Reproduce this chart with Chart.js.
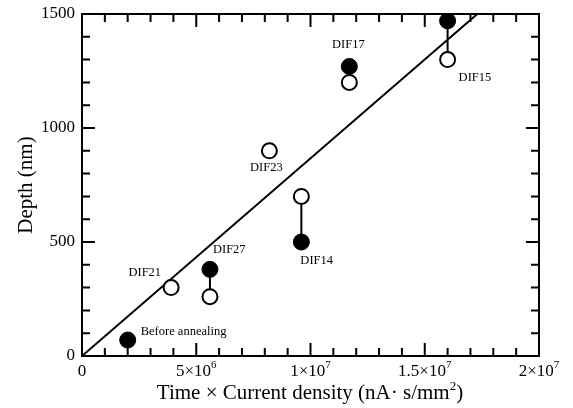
<!DOCTYPE html>
<html>
<head>
<meta charset="utf-8">
<script src="https://cdn.jsdelivr.net/npm/chart.js@4"></script>
<style>
  html, body { margin: 0; padding: 0; background: #fff; }
  #wrap { width: 573px; height: 408px; position: relative; }
</style>
</head>
<body>
<div id="wrap"><canvas id="chart"></canvas></div>
<script>
// Samples after annealing (filled) and before/other (open)
var filledX = [2.0e6, 5.6e6, 9.6e6, 11.7e6, 16.0e6];
var filledY = [70, 380, 500, 1270, 1470];
var openX = [3.9e6, 5.6e6, 8.2e6, 9.6e6, 11.7e6, 16.0e6];
var openY = [300, 260, 900, 700, 1200, 1300];

// Linear fit through origin
var fitX = [0, 1.73e7];
var fitY = [0, 1500];

// pairs joined by a vertical bar: [filled index, open index]
var pairs = [[1, 1], [2, 3], [3, 4], [4, 5]];

var xTickValues = [0, 5e6, 1e7, 1.5e7, 2e7];
var yTickValues = [0, 500, 1000, 1500];

// sample names: [text, series, index]
var sampleNames = [
    ['Before annealing', 'filled', 0],
    ['DIF21', 'open', 0],
    ['DIF27', 'filled', 1],
    ['DIF23', 'open', 2],
    ['DIF14', 'filled', 2],
    ['DIF17', 'filled', 3],
    ['DIF15', 'open', 5]
];
// where each name sits relative to its point: dx, dy, align
var nameOffsets = [
    [13, -5, 'left'],
    [-10, -12, 'right'],
    [3, -16, 'left'],
    [-3, 20, 'center'],
    [-1, 22, 'left'],
    [-1, -18, 'center'],
    [11, 21, 'left']
];

var serif = '"Liberation Serif", "Times New Roman", serif';

function toPts(xs, ys) {
    return xs.map(function(x, i) { return { x: x, y: ys[i] }; });
}

var datasets = [];
pairs.forEach(function(p) {
    datasets.push({
        type: 'line',
        data: [{ x: filledX[p[0]], y: filledY[p[0]] }, { x: openX[p[1]], y: openY[p[1]] }],
        borderColor: '#000',
        borderWidth: 2,
        pointRadius: 0,
        order: 5
    });
});
datasets.push({
    type: 'line',
    data: toPts(fitX, fitY),
    borderColor: '#000',
    borderWidth: 2,
    pointRadius: 0,
    order: 4
});
datasets.push({
    type: 'scatter',
    data: toPts(openX, openY),
    pointRadius: 7.5,
    pointBackgroundColor: '#fff',
    pointBorderColor: '#000',
    pointBorderWidth: 2,
    order: 2
});
datasets.push({
    type: 'scatter',
    data: toPts(filledX, filledY),
    pointRadius: 8,
    pointBackgroundColor: '#000',
    pointBorderColor: '#000',
    pointBorderWidth: 1,
    order: 1
});

var framePlugin = {
    id: 'frame',
    afterDraw: function(chart) {
        var ctx = chart.ctx;
        var a = chart.chartArea;
        var xs = chart.scales.x, ys = chart.scales.y;
        ctx.save();
        ctx.strokeStyle = '#000';
        ctx.lineWidth = 2;
        ctx.strokeRect(a.left, a.top, a.right - a.left, a.bottom - a.top);

        // inward ticks on all four sides
        ctx.beginPath();
        xs.ticks.forEach(function(t) {
            var px = xs.getPixelForValue(t.value);
            var len = (t.value % 5e6 === 0) ? 13 : 8;
            ctx.moveTo(px, a.bottom); ctx.lineTo(px, a.bottom - len);
            ctx.moveTo(px, a.top); ctx.lineTo(px, a.top + len);
        });
        ys.ticks.forEach(function(t) {
            var py = ys.getPixelForValue(t.value);
            var len = (t.value % 500 === 0) ? 13 : 8;
            ctx.moveTo(a.left, py); ctx.lineTo(a.left + len, py);
            ctx.moveTo(a.right, py); ctx.lineTo(a.right - len, py);
        });
        ctx.stroke();

        ctx.fillStyle = '#000';
        // y tick labels
        ctx.font = '17px ' + serif;
        ctx.textAlign = 'right';
        ctx.textBaseline = 'middle';
        yTickValues.forEach(function(v) {
            ctx.fillText(String(v), a.left - 7, ys.getPixelForValue(v));
        });

        // x tick labels with powers of ten
        ctx.textBaseline = 'alphabetic';
        xTickValues.forEach(function(v) {
            var px = xs.getPixelForValue(v);
            var base, sup = '';
            if (v === 0) {
                base = '0';
            } else {
                var e = Math.floor(Math.log10(v) + 1e-9);
                var m = v / Math.pow(10, e);
                base = m + '\u00d710';
                sup = String(e);
            }
            ctx.font = '17px ' + serif;
            var wb = ctx.measureText(base).width;
            ctx.font = '11px ' + serif;
            var ws = ctx.measureText(sup).width;
            var x0 = px - (wb + ws) / 2;
            ctx.textAlign = 'left';
            ctx.font = '17px ' + serif;
            ctx.fillText(base, x0, a.bottom + 20);
            ctx.font = '11px ' + serif;
            ctx.fillText(sup, x0 + wb, a.bottom + 12);
        });

        // x axis title
        var t1 = 'Time \u00d7 Current density (nA\u00b7 s/mm';
        var t2 = '2';
        var t3 = ')';
        ctx.font = '21px ' + serif;
        var w1 = ctx.measureText(t1).width, w3 = ctx.measureText(t3).width;
        ctx.font = '13px ' + serif;
        var w2 = ctx.measureText(t2).width;
        var sx = 310 - (w1 + w2 + w3) / 2;
        ctx.font = '21px ' + serif;
        ctx.fillText(t1, sx, a.bottom + 43);
        ctx.fillText(t3, sx + w1 + w2, a.bottom + 43);
        ctx.font = '13px ' + serif;
        ctx.fillText(t2, sx + w1, a.bottom + 34);

        // y axis title
        ctx.save();
        ctx.translate(26, 185);
        ctx.rotate(-Math.PI / 2);
        ctx.textAlign = 'center';
        ctx.textBaseline = 'middle';
        ctx.font = '21px ' + serif;
        ctx.fillText('Depth (nm)', 0, 0);
        ctx.restore();

        // sample names
        ctx.font = '12.5px ' + serif;
        ctx.textBaseline = 'alphabetic';
        sampleNames.forEach(function(s, i) {
            var xArr = s[1] === 'filled' ? filledX : openX;
            var yArr = s[1] === 'filled' ? filledY : openY;
            var px = xs.getPixelForValue(xArr[s[2]]);
            var py = ys.getPixelForValue(yArr[s[2]]);
            var o = nameOffsets[i];
            ctx.textAlign = o[2];
            ctx.fillText(s[0], px + o[0], py + o[1]);
        });
        ctx.restore();
    }
};

new Chart(document.getElementById('chart'), {
    data: { datasets: datasets },
    options: {
        responsive: true,
        maintainAspectRatio: false,
        animation: false,
        layout: { padding: { left: 74, right: 34, top: 14, bottom: 44 } },
        plugins: { legend: { display: false }, tooltip: { enabled: false } },
        scales: {
            x: {
                type: 'linear',
                min: 0, max: 2e7,
                ticks: { display: false, stepSize: 1e6 },
                grid: { display: false },
                border: { display: false }
            },
            y: {
                type: 'linear',
                min: 0, max: 1500,
                ticks: { display: false, stepSize: 100 },
                grid: { display: false },
                border: { display: false }
            }
        }
    },
    plugins: [framePlugin]
});
</script>
</body>
</html>
